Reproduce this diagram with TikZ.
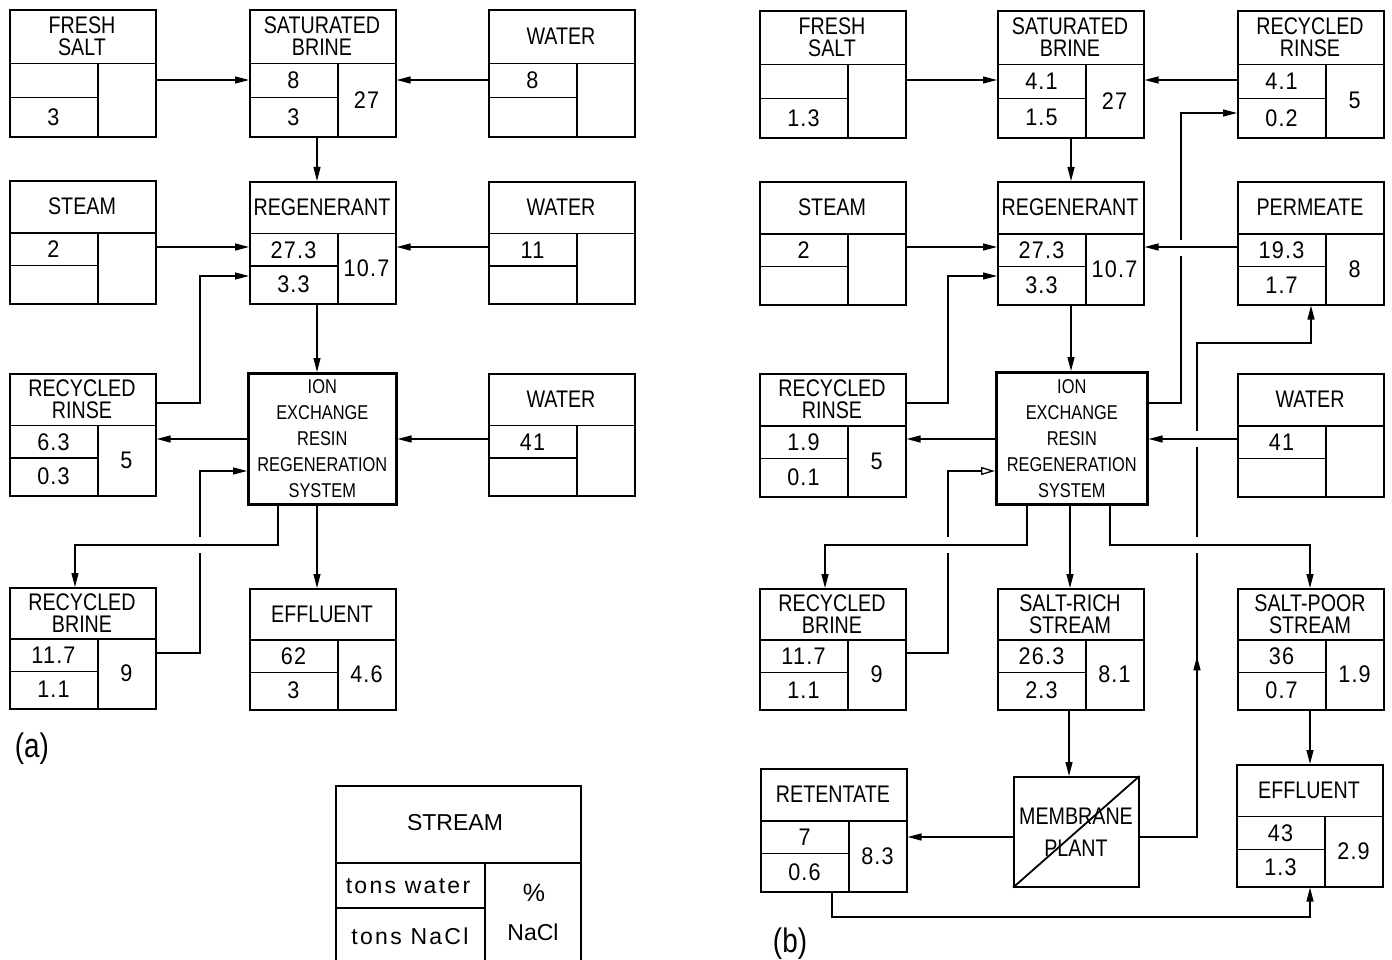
\documentclass[tikz,border=0pt]{standalone}
\usepackage{fontspec}
\setmainfont[FakeStretch=0.82]{Liberation Sans}
\newfontfamily\numfont[FakeStretch=0.9,LetterSpace=5]{Liberation Sans}
\newfontfamily\legfont[LetterSpace=10]{Liberation Sans}
\newfontfamily\legcap{Liberation Sans}
\usetikzlibrary{arrows.meta,decorations.markings}

\tikzset{
  sbox/.style={draw, line width=1.6pt, rectangle, minimum width=146pt, inner sep=0pt, anchor=north west},
  inner/.style={line width=1.3pt},
  lbl/.style={inner sep=0pt, font=\fontsize{24}{22}\selectfont, align=center},
  num/.style={inner sep=0pt, font=\numfont\fontsize{24}{22}\selectfont},
  arr/.style={line width=1.3pt, -{Triangle[length=14pt,width=7pt]}},
  oarr/.style={line width=1.3pt, -{Triangle[open,length=14pt,width=8pt]}},
  ionbox/.style={draw, line width=2.6pt, rectangle, inner sep=0pt, anchor=north west, align=center, font=\fontsize{20}{26}\selectfont},
  gap/.style={fill=white},
}

\newcommand\streambox[8]{%
  \pgfmathsetmacro\sbH{#3+0.43*(#4-#3)}%
  \pgfmathsetmacro\sbM{\sbH+0.47*(#4-\sbH)}%
  \pgfmathsetmacro\sbT{#4-#3}%
  \node[sbox, minimum height=\sbT pt] (#1) at (#2,#3) {};
  \draw[inner] (#2,\sbH) -- ({#2+146},\sbH);
  \draw[inner] ({#2+89},\sbH) -- ({#2+89},#4);
  \draw[inner] (#2,\sbM) -- ({#2+89},\sbM);
  \node[lbl] (#1-t) at ({#2+73},{(#3+\sbH)/2}) {#5};
  \node[num] (#1-w) at ({#2+44.5},{(\sbH+\sbM)/2}) {#6};
  \node[num] (#1-n) at ({#2+44.5},{(\sbM+#4)/2}) {#7};
  \node[num] (#1-p) at ({#2+117.5},{(\sbH+#4)/2}) {#8};
}

\begin{document}
\begin{tikzpicture}[x=1pt,y=-1pt]
\useasboundingbox (0,0) rectangle (1392,960);

% ---------------- panel (a) ----------------
\streambox{fsA}{9}{9}{136}{FRESH\\SALT}{}{3}{}
\streambox{sbA}{249}{9}{136}{SATURATED\\BRINE}{8}{3}{27}
\streambox{wa1}{488}{9}{136}{WATER}{8}{}{}
\streambox{stA}{9}{180}{303}{STEAM}{2}{}{}
\streambox{regA}{249}{181}{303}{REGENERANT}{27.3}{3.3}{10.7}
\streambox{wa2}{488}{181}{303}{WATER}{11}{}{}
\streambox{rrA}{9}{373}{495}{RECYCLED\\RINSE}{6.3}{0.3}{5}
\node[ionbox, minimum width=148pt, minimum height=131pt] (ionA) at (247,372) {ION\\EXCHANGE\\RESIN\\REGENERATION\\SYSTEM};
\streambox{wa3}{488}{373}{495}{WATER}{41}{}{}
\streambox{rbA}{9}{587}{708}{RECYCLED\\BRINE}{11.7}{1.1}{9}
\streambox{efA}{249}{588}{709}{EFFLUENT}{62}{3}{4.6}

\draw[arr] (fsA.east |- 0,80) -- (sbA.west |- 0,80);
\draw[arr] (wa1.west |- 0,80) -- (sbA.east |- 0,80);
\draw[arr] (sbA.south -| 317,0) -- (regA.north -| 317,0);
\draw[arr] (stA.east |- 0,247) -- (regA.west |- 0,247);
\draw[arr] (wa2.west |- 0,247) -- (regA.east |- 0,247);
\draw[arr] (rrA.east |- 0,403) -- (200,403) -- (200,276) -- (regA.west |- 0,276);
\draw[arr] (regA.south -| 317,0) -- (ionA.north -| 317,0);
\draw[arr] (ionA.west |- 0,439) -- (rrA.east |- 0,439);
\draw[arr] (wa3.west |- 0,439) -- (ionA.east |- 0,439);
\draw[arr] (rbA.east |- 0,653) -- (200,653) -- (200,471) -- (ionA.west |- 0,471);
\fill[gap] (196,537) rectangle (204,553);
\draw[arr] (ionA.south -| 278,0) -- (278,545) -- (75,545) -- (rbA.north -| 75,0);
\draw[arr] (ionA.south -| 317,0) -- (efA.north -| 317,0);

\node[inner sep=0pt, font=\fontsize{34}{34}\selectfont] (labA) at (32,749) {(a)};

% ---------------- legend ----------------
\node[draw, line width=1.8pt, rectangle, inner sep=0pt, anchor=north west, minimum width=245pt, minimum height=180pt] (leg) at (335,785) {};
\draw[inner] (335,863) -- (580,863);
\draw[inner] (485,863) -- (485,965);
\draw[inner] (335,908) -- (485,908);
\node[inner sep=0pt, font=\legcap\fontsize{23}{23}\selectfont] (leg-t) at (455,823) {STREAM};
\node[inner sep=0pt, font=\legfont\fontsize{23}{23}\selectfont] (leg-w) at (408,886) {tons water};
\node[inner sep=0pt, font=\legfont\fontsize{23}{23}\selectfont] (leg-n) at (410,936) {tons NaCl};
\node[inner sep=0pt, font=\legcap\fontsize{25}{25}\selectfont] (leg-p1) at (534,893) {\%};
\node[inner sep=0pt, font=\legcap\fontsize{23}{23}\selectfont] (leg-p2) at (533,932) {NaCl};

% ---------------- panel (b) ----------------
\streambox{fsB}{759}{10}{137}{FRESH\\SALT}{}{1.3}{}
\streambox{sbB}{997}{10}{137}{SATURATED\\BRINE}{4.1}{1.5}{27}
\streambox{rtB}{1237}{10}{137}{RECYCLED\\RINSE}{4.1}{0.2}{5}
\streambox{stB}{759}{181}{304}{STEAM}{2}{}{}
\streambox{regB}{997}{181}{304}{REGENERANT}{27.3}{3.3}{10.7}
\streambox{pmB}{1237}{181}{304}{PERMEATE}{19.3}{1.7}{8}
\streambox{rrB}{759}{373}{496}{RECYCLED\\RINSE}{1.9}{0.1}{5}
\node[ionbox, minimum width=151pt, minimum height=132pt] (ionB) at (995,371) {ION\\EXCHANGE\\RESIN\\REGENERATION\\SYSTEM};
\streambox{waB}{1237}{373}{496}{WATER}{41}{}{}
\streambox{rbB}{759}{588}{709}{RECYCLED\\BRINE}{11.7}{1.1}{9}
\streambox{srB}{997}{588}{709}{SALT-RICH\\STREAM}{26.3}{2.3}{8.1}
\streambox{spB}{1237}{588}{709}{SALT-POOR\\STREAM}{36}{0.7}{1.9}
\streambox{reB}{760}{768}{891}{RETENTATE}{7}{0.6}{8.3}
\node[draw, line width=1.6pt, rectangle, inner sep=0pt, anchor=north west, minimum width=125pt, minimum height=110pt] (memb) at (1013,776) {};
\draw[line width=1.8pt] (memb.south west) -- (memb.north east);
\node[lbl, font=\fontsize{24}{32}\selectfont] (memb-t) at (1076,832) {MEMBRANE\\PLANT};
\streambox{efB}{1236}{764}{886}{EFFLUENT}{43}{1.3}{2.9}

\draw[arr] (fsB.east |- 0,80) -- (sbB.west |- 0,80);
\draw[arr] (rtB.west |- 0,80) -- (sbB.east |- 0,80);
\draw[arr] (sbB.south -| 1071,0) -- (regB.north -| 1071,0);
\draw[arr] (stB.east |- 0,247) -- (regB.west |- 0,247);
\draw[arr] (rrB.east |- 0,403) -- (948,403) -- (948,276) -- (regB.west |- 0,276);
\draw[arr] (regB.south -| 1071,0) -- (ionB.north -| 1071,0);
\draw[arr] (ionB.west |- 0,439) -- (rrB.east |- 0,439);
\draw[oarr] (rbB.east |- 0,653) -- (948,653) -- (948,471) -- (ionB.west |- 0,471);
\draw[arr] (ionB.east |- 0,403) -- (1181,403) -- (1181,113) -- (rtB.west |- 0,113);
\draw[arr, postaction={decorate}, decoration={markings, mark=at position 238pt with {\arrow{Triangle[length=14pt,width=7pt]}}}]
  (memb.east |- 0,837) -- (1197,837) -- (1197,343) -- (1311,343) -- (pmB.south -| 1311,0);
\fill[gap] (944,537) rectangle (952,553);
\fill[gap] (1177,240) rectangle (1185,256);
\fill[gap] (1193,431) rectangle (1201,447);
\fill[gap] (1193,537) rectangle (1201,553);
\draw[arr] (pmB.west |- 0,247) -- (regB.east |- 0,247);
\draw[arr] (waB.west |- 0,439) -- (ionB.east |- 0,439);
\draw[arr] (ionB.south -| 1027,0) -- (1027,545) -- (825,545) -- (rbB.north -| 825,0);
\draw[arr] (ionB.south -| 1110,0) -- (1110,545) -- (1310,545) -- (spB.north -| 1310,0);
\draw[arr] (ionB.south -| 1070,0) -- (srB.north -| 1070,0);
\draw[arr] (srB.south -| 1069,0) -- (memb.north -| 1069,0);
\draw[arr] (spB.south -| 1310,0) -- (efB.north -| 1310,0);
\draw[arr] (memb.west |- 0,837) -- (reB.east |- 0,837);
\draw[arr] (reB.south -| 832,0) -- (832,917) -- (1310,917) -- (efB.south -| 1310,0);

\node[inner sep=0pt, font=\fontsize{34}{34}\selectfont] (labB) at (790,944) {(b)};
\end{tikzpicture}
\end{document}
